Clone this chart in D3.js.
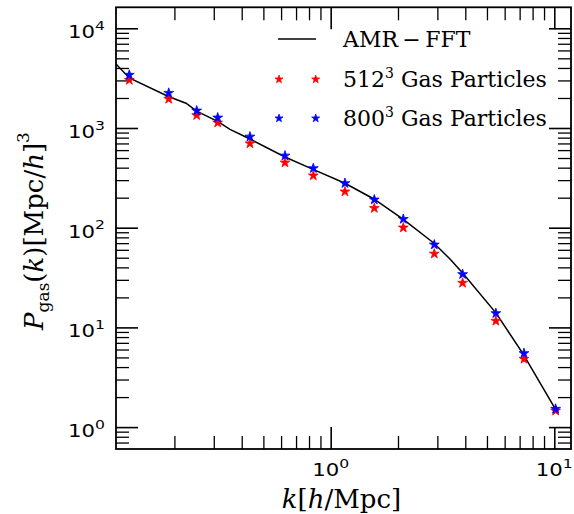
<!DOCTYPE html>
<html>
<head>
<meta charset="utf-8">
<script src="https://cdn.jsdelivr.net/npm/d3@7"></script>
<style>
  body { margin: 0; background: #fff; }
  .tick line { stroke: #000; }
</style>
</head>
<body>
<div id="chart"></div>
<script>
// k bins of the particle spectra [h/Mpc]
const kBins = [0.1257, 0.1886, 0.2516, 0.3124, 0.4355, 0.6246, 0.836, 1.158, 1.567, 2.112, 2.906, 3.89, 5.48, 7.32, 10.14];
// P_gas(k) for the two particle runs
const p512 = [3027, 1955, 1341, 1130, 699, 449, 333, 230, 157, 100, 54.8, 27.9, 11.6, 4.82, 1.46];
const p800 = [3405, 2244, 1491, 1268, 817, 527, 394, 279, 191, 122, 67.5, 34.1, 13.85, 5.50, 1.52];
// AMR-FFT reference curve
const kFFT = [0.1096, 0.1257, 0.188, 0.2254, 0.2516, 0.3135, 0.3545, 0.4355, 0.6246, 0.834, 1.158, 1.56, 2.105, 2.899, 3.416, 3.9, 5.48, 7.24, 10.18];
const pFFT = [4385, 3174, 2070, 1771, 1479, 1161, 970, 775, 512, 385, 279, 194, 122, 69.8, 48.5, 34.9, 14.0, 5.46, 1.48];
// decade ticks, labelled as 10^exp
const xMajor = [1, 10];
const yMajor = [1, 10, 100, 1000, 10000];
const legendLabels = ["AMR\u2009\u2212\u2009FFT", "512", "800"];

const W = 574, H = 514;
const margin = {top: 7.3, right: 3, bottom: 65, left: 116};
const width = W - margin.left - margin.right,
      height = H - margin.top - margin.bottom;

const svg = d3.select("#chart").append("svg")
  .attr("width", W).attr("height", H)
  .append("g")
  .attr("transform", "translate(" + margin.left + "," + margin.top + ")");

const x = d3.scaleLog().domain([0.1096, 11.88]).range([0, width]);
const y = d3.scaleLog().domain([0.603, 16240]).range([height, 0]);

const isDecade = v => Math.abs(Math.log10(v) - Math.round(Math.log10(v))) < 1e-9;
const xMinor = x.ticks().filter(v => !isDecade(v));
const yMinor = y.ticks().filter(v => !isDecade(v));

// ticks point inwards on all four sides
function ticks(axis, scale, values, size, transform, sw) {
  svg.append("g")
    .attr("transform", transform)
    .call(axis(scale).tickValues(values).tickSize(-size).tickSizeOuter(0).tickFormat(""))
    .call(g => g.select(".domain").remove())
    .call(g => g.selectAll(".tick line").attr("stroke-width", sw));
}
[[d3.axisBottom, "translate(0," + height + ")"], [d3.axisTop, "translate(0,0)"]].forEach(([a, t]) => {
  ticks(a, x, xMajor, 22, t, 1.6);
  ticks(a, x, xMinor, 13, t, 1.3);
});
[[d3.axisLeft, "translate(0,0)"], [d3.axisRight, "translate(" + width + ",0)"]].forEach(([a, t]) => {
  ticks(a, y, yMajor, 22, t, 1.6);
  ticks(a, y, yMinor, 13, t, 1.3);
});

// tick labels 10^n (the reference glyphs are a bit wider than tall)
const tickFont = "'DejaVu Sans', sans-serif";
function powLabel(px, py, anchor, v) {
  const t = svg.append("text")
    .attr("transform", "translate(" + px + "," + py + ") scale(1.25,1)")
    .attr("text-anchor", anchor)
    .style("font-family", tickFont).style("font-size", "17px");
  t.append("tspan").text("10");
  t.append("tspan").attr("dy", -8.5).style("font-size", "12.5px").text(Math.round(Math.log10(v)));
}
xMajor.forEach(v => powLabel(x(v), height + 27, "middle", v));
yMajor.forEach(v => powLabel(-11, y(v) + 10, "end", v));

// frame
svg.append("rect")
  .attr("width", width).attr("height", height)
  .attr("fill", "none").attr("stroke", "#000").attr("stroke-width", 1.8);

// AMR-FFT line
const line = d3.line()
  .x((d, i) => x(kFFT[i]))
  .y(d => y(d));
svg.append("path")
  .datum(pFFT)
  .attr("d", line)
  .attr("fill", "none").attr("stroke", "#000").attr("stroke-width", 1.5);

// star markers
const star = d3.symbol(d3.symbolStar, 30);
function stars(vals, color) {
  svg.append("g").selectAll("path")
    .data(vals)
    .enter()
    .append("path")
    .attr("d", star)
    .attr("transform", (d, i) => "translate(" + x(kBins[i]) + "," + y(d) + ")")
    .attr("fill", color).attr("stroke", color).attr("stroke-width", 0.8);
}
stars(p512, "#ff0000");
stars(p800, "#0000ff");

// legend
const serif = "'DejaVu Serif', serif";
const lg = svg.append("g").attr("transform", "translate(" + (-margin.left) + "," + (-margin.top) + ")");
lg.append("line").attr("x1", 278).attr("x2", 316).attr("y1", 39).attr("y2", 39)
  .attr("stroke", "#000").attr("stroke-width", 1.5);
lg.append("text").attr("x", 343).attr("y", 46.5)
  .style("font-family", serif).style("font-size", "22px").text(legendLabels[0]);
const legStar = d3.symbol(d3.symbolStar, 20);
[["#ff0000", 79.3, legendLabels[1]], ["#0000ff", 118.3, legendLabels[2]]].forEach(([c, cy, lab]) => {
  [279, 315.7].forEach(cx => {
    lg.append("path").attr("d", legStar).attr("transform", "translate(" + cx + "," + cy + ")")
      .attr("fill", c).attr("stroke", c).attr("stroke-width", 0.8);
  });
  const t = lg.append("text").attr("x", 343).attr("y", cy + 7.5)
    .style("font-family", serif).style("font-size", "22px");
  t.append("tspan").text(lab);
  t.append("tspan").attr("dy", -9).style("font-size", "14px").text("3");
  t.append("tspan").attr("dy", 9).text("\u00a0Gas Particles");
});

// axis titles
const xt = svg.append("text")
  .attr("x", width / 2 - 2).attr("y", height + 59)
  .attr("text-anchor", "middle")
  .style("font-family", serif).style("font-size", "26px");
xt.append("tspan").style("font-style", "italic").text("k");
xt.append("tspan").text("[");
xt.append("tspan").style("font-style", "italic").text("h");
xt.append("tspan").text("/Mpc]");

const yt = svg.append("text")
  .attr("transform", "translate(" + (43 - margin.left) + "," + (231 - margin.top) + ") rotate(-90)")
  .attr("text-anchor", "middle")
  .style("font-family", serif).style("font-size", "26px");
yt.append("tspan").style("font-style", "italic").text("P");
yt.append("tspan").attr("dy", 6).style("font-size", "17px").text("gas");
yt.append("tspan").attr("dy", -6).text("(");
yt.append("tspan").style("font-style", "italic").text("k");
yt.append("tspan").text(")[Mpc/");
yt.append("tspan").style("font-style", "italic").text("h");
yt.append("tspan").text("]");
yt.append("tspan").attr("dy", -14).style("font-size", "17px").text("3");
</script>
</body>
</html>
